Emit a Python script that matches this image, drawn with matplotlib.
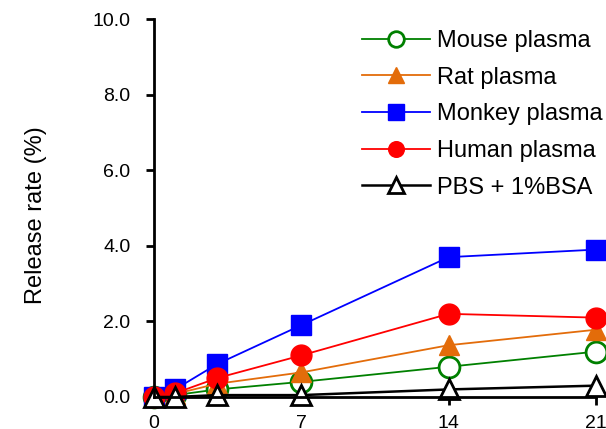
import matplotlib
matplotlib.use('Agg')
import matplotlib.pyplot as plt

plt.rcParams['font.family'] = ['Liberation Sans', 'DejaVu Sans']

days = [0, 1, 3, 7, 14, 21]
mouse = [0.0, 0.05, 0.2, 0.4, 0.8, 1.2]
rat = [0.0, 0.08, 0.35, 0.65, 1.37, 1.78]
monkey = [0.0, 0.2, 0.87, 1.9, 3.7, 3.9]
human = [0.0, 0.1, 0.5, 1.1, 2.2, 2.1]
pbs = [0.0, 0.0, 0.05, 0.05, 0.2, 0.3]

xticks = [0, 7, 14, 21]
yticks = [0, 2, 4, 6, 8, 10]

fig = plt.figure(figsize=(6.06, 4.29), dpi=100)
ax = fig.add_axes([0.254, 0.0746, 0.7295, 0.881])

ms = 15
ax.plot(days, mouse, color='#008000', marker='o', mfc='white', mec='#008000', mew=2,
        ms=ms, lw=1.3, label='Mouse plasma', clip_on=False)
ax.plot(days, rat, color='#E36C0A', marker='^', mfc='#E36C0A', mec='#E36C0A',
        ms=ms, lw=1.3, label='Rat plasma', clip_on=False)
ax.plot(days, monkey, color='#0000FF', marker='s', mfc='#0000FF', mec='#0000FF',
        ms=ms, lw=1.3, label='Monkey plasma', clip_on=False)
ax.plot(days, human, color='#FF0000', marker='o', mfc='#FF0000', mec='#FF0000',
        ms=ms, lw=1.3, label='Human plasma', clip_on=False)
ax.plot(days, pbs, color='black', marker='^', mfc='white', mec='black', mew=2,
        ms=ms, lw=1.8, label='PBS + 1%BSA', clip_on=False)

ax.set_xlim(0, 21)
ax.set_ylim(0, 10)
ax.set_xticks(xticks)
ax.set_yticks(yticks)
ax.set_yticklabels(['%.1f' % v for v in yticks])

for s in ['top', 'right']:
    ax.spines[s].set_visible(False)
ax.spines['left'].set_linewidth(2)
ax.spines['bottom'].set_linewidth(2)
ax.tick_params(direction='out', width=2, length=6, labelsize=14, colors='black')
ax.tick_params(axis='y', pad=11)
ax.tick_params(axis='x', pad=7)

ax.set_ylabel('Release rate (%)', fontsize=17)
ax.yaxis.set_label_coords(-0.242, 0.48)

# legend sits in the upper right, no frame
leg = fig.legend(loc='upper left', bbox_to_anchor=(0.597, 0.93), frameon=False,
                 fontsize=17, handlelength=2.9, handletextpad=0.3, labelspacing=0.62,
                 borderpad=0, borderaxespad=0, markerscale=0.75)

fig.savefig('out.png', dpi=100)
